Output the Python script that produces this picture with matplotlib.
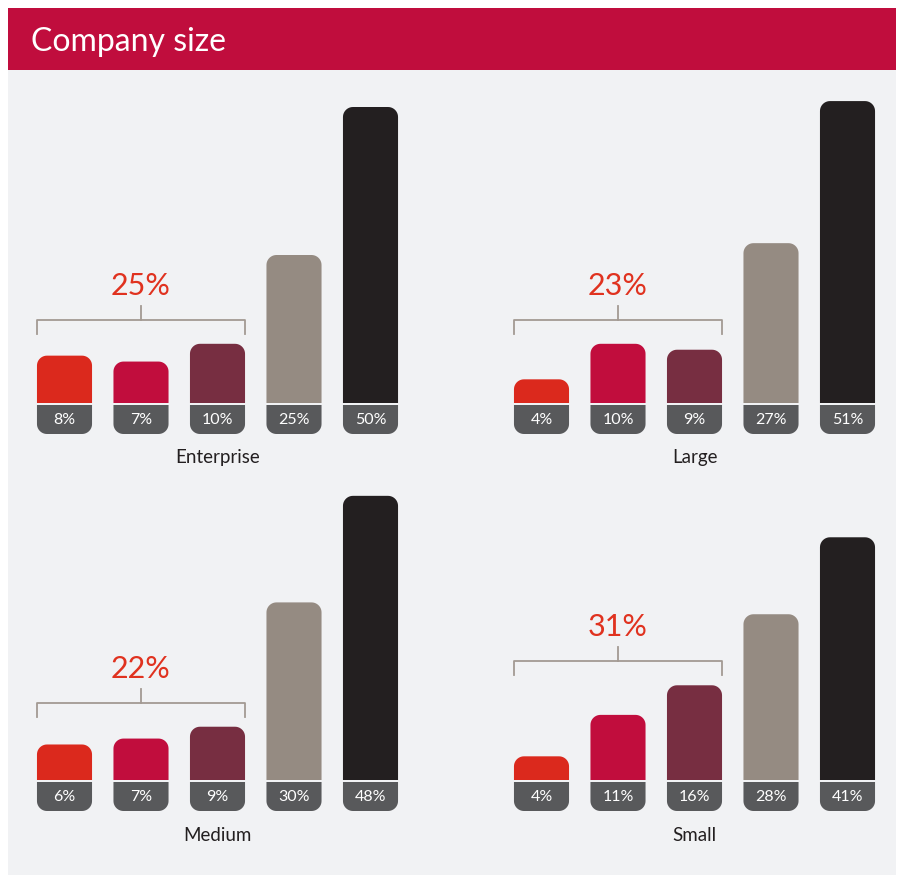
import numpy as np
import matplotlib.pyplot as plt
from matplotlib.patches import Polygon, Rectangle

plt.rcParams['font.family'] = ['Lato', 'DejaVu Sans']

# shares per company size, five answer buckets each
segments = ["Enterprise", "Large", "Medium", "Small"]
enterprise = [8, 7, 10, 25, 50]
large = [4, 10, 9, 27, 51]
medium = [6, 7, 9, 30, 48]
small = [4, 11, 16, 28, 41]
# combined share of the first three buckets
group_totals = [25, 23, 22, 31]

bar_colors = ["#DB291D", "#C10D3D", "#772E41", "#958B82", "#231F20"]
header_red = "#C00D3D"
label_gray = "#58595B"
bracket_gray = "#A39A93"
panel_bg = "#F1F2F4"

W, H = 904, 877
fig = plt.figure(figsize=(W / 100, H / 100), dpi=100)
fig.patch.set_facecolor("white")

# background panel and header band (figure pixel coords)
bg = fig.add_axes([0, 0, 1, 1])
bg.set_xlim(0, W)
bg.set_ylim(H, 0)
bg.axis("off")
bg.add_patch(Rectangle((8, 70), 888, 805, color=panel_bg, lw=0))
bg.add_patch(Rectangle((8, 8), 888, 62, color=header_red, lw=0))
bg.text(31, 42, "Company size", color="white", fontsize=23, va="center", ha="left")

PX_X = 76.5   # pixels per bar slot
PX_Y = 5.92   # pixels per percentage point
YMIN, YMAX = -10, 53
BAR_W = 0.72
RX = 10 / PX_X   # corner radius in x units
RY = 10 / PX_Y   # corner radius in y units


def arc(cx, cy, ry, a0, a1):
    t = np.linspace(a0, a1, 12)
    return list(zip(cx + RX * np.cos(t), cy + ry * np.sin(t)))


def rounded_box(ax, x0, y0, w, h, color, round_top=True):
    """Box with two rounded corners, either on top or on the bottom."""
    ry = min(RY, h)
    x1, y1 = x0 + w, y0 + h
    if round_top:
        pts = ([(x0, y0), (x1, y0)]
               + arc(x1 - RX, y1 - ry, ry, 0, np.pi / 2)
               + arc(x0 + RX, y1 - ry, ry, np.pi / 2, np.pi))
    else:
        pts = ([(x0, y1), (x1, y1)]
               + arc(x1 - RX, y0 + ry, ry, 0, -np.pi / 2)
               + arc(x0 + RX, y0 + ry, ry, -np.pi / 2, -np.pi))
    ax.add_patch(Polygon(pts, closed=True, fc=color, ec="none"))


# (left px of first slot, baseline px from top)
layout = [(26.25, 403), (503.25, 403), (26.25, 780), (503.25, 780)]
series = [enterprise, large, medium, small]

for name, vals, total, (left, base) in zip(segments, series, group_totals, layout):
    top_px = base - YMAX * PX_Y
    bottom_px = base - YMIN * PX_Y
    ax = fig.add_axes([left / W, 1 - bottom_px / H, 5 * PX_X / W, (bottom_px - top_px) / H])
    ax.set_xlim(-0.5, 4.5)
    ax.set_ylim(YMIN, YMAX)
    ax.axis("off")

    gap = 2 / PX_Y
    box_h = 29 / PX_Y
    for i, (v, c) in enumerate(zip(vals, bar_colors)):
        x0 = i - BAR_W / 2
        rounded_box(ax, x0, 0, BAR_W, v, c, round_top=True)
        rounded_box(ax, x0, -gap - box_h, BAR_W, box_h, label_gray, round_top=False)
        ax.text(i, -gap - box_h / 2, f"{v}%", color="white", fontsize=11.5,
                ha="center", va="center")

    # bracket over the first three bars
    yb = max(vals[:3]) + 24 / PX_Y
    tick = 14 / PX_Y
    xl, xr = -BAR_W / 2, 2 + BAR_W / 2
    ax.plot([xl, xl, xr, xr], [yb - tick, yb, yb, yb - tick], color=bracket_gray, lw=1.3)
    ax.plot([1, 1], [yb, yb + tick], color=bracket_gray, lw=1.3)
    ax.text(1, yb + 34 / PX_Y, f"{total}%", color="#E0321F", fontsize=22,
            ha="center", va="center")

    ax.text(2, -55 / PX_Y, name, color="#231F20", fontsize=13.5, ha="center", va="center")

fig.savefig("out.png", dpi=100, facecolor=fig.get_facecolor())
